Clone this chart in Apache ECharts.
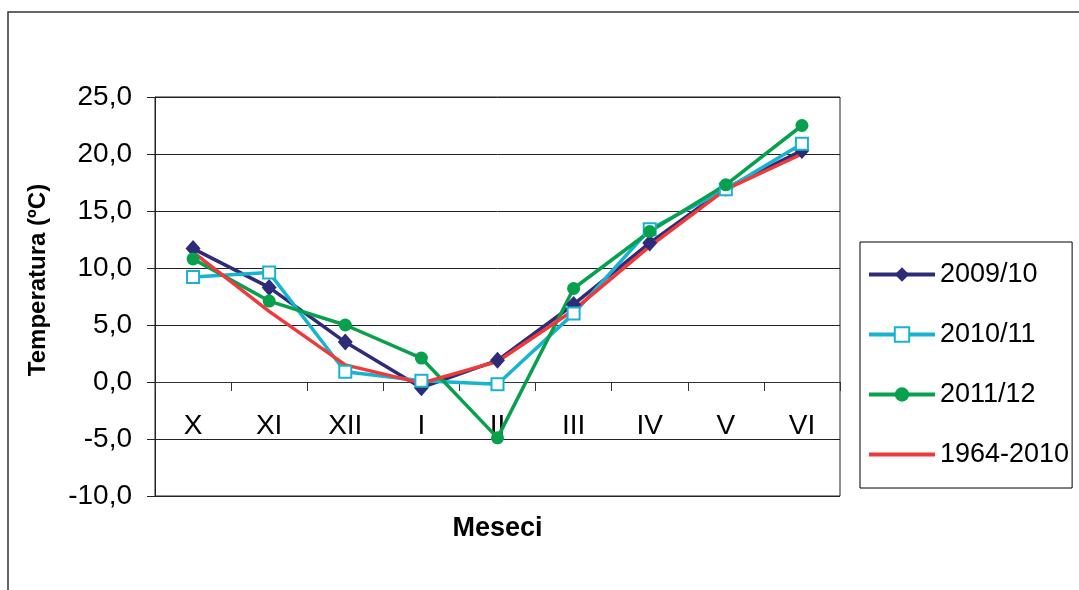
<!DOCTYPE html>
<html>
<head>
<meta charset="utf-8">
<script src="https://cdn.jsdelivr.net/npm/echarts@6/dist/echarts.min.js"></script>
<style>
    html, body {margin: 0; padding: 0; background: #fff;}
    #chart {width: 1079px; height: 590px;}
</style>
</head>
<body>
<div id="chart"></div>
<script>
    // meseci (X..VI)
    const months = ['X', 'XI', 'XII', 'I', 'II', 'III', 'IV', 'V', 'VI'];

    const s2009 = [11.7, 8.3, 3.5, -0.5, 1.9, 6.8, 12.2, 17.0, 20.3];
    const s2010 = [9.2, 9.6, 0.9, 0.1, -0.2, 6.0, 13.4, 16.9, 20.9];
    const s2011 = [10.8, 7.1, 5.0, 2.1, -4.9, 8.2, 13.2, 17.3, 22.5];
    const sAvg = [11.4, 6.2, 1.5, -0.1, 1.8, 6.3, 11.9, 16.9, 20.0];

    const font = 'Liberation Sans, Arial, sans-serif';

    const chart = echarts.init(document.getElementById('chart'));

    const option = {
        backgroundColor: '#fff',
        animation: false,
        graphic: [
            {
                type: 'rect',
                shape: {x: 8, y: 12, width: 1200, height: 700},
                style: {fill: 'none', stroke: '#333', lineWidth: 1.5},
                silent: true
            },
            {
                type: 'text',
                x: 38,
                y: 280,
                rotation: Math.PI / 2,
                style: {
                    text: 'Temperatura (ºC)',
                    font: 'bold 24px ' + font,
                    fill: '#000',
                    align: 'center',
                    verticalAlign: 'middle'
                }
            }
        ],
        grid: {
            left: 155,
            right: 239,
            top: 97,
            bottom: 94,
            show: true,
            borderColor: '#222',
            borderWidth: 1,
            outerBoundsMode: 'none'
        },
        legend: {
            orient: 'vertical',
            left: 860,
            top: 242,
            padding: [19, 3, 20, 7],
            itemWidth: 66,
            itemHeight: 18,
            itemGap: 33,
            borderColor: '#000',
            borderWidth: 1,
            lineStyle: {width: 4},
            textStyle: {fontSize: 27, fontFamily: font, color: '#000'},
            data: [
                '2009/10',
                '2010/11',
                '2011/12',
                {name: '1964-2010', icon: 'path://M0,0H66V4H0Z'}
            ]
        },
        xAxis: {
            type: 'category',
            data: months,
            name: 'Meseci',
            nameLocation: 'middle',
            nameGap: 19,
            nameTextStyle: {fontSize: 27, fontWeight: 'bold', fontFamily: font, color: '#000'},
            axisLine: {onZero: true, lineStyle: {color: '#333', width: 1}},
            axisTick: {show: true, length: 9, lineStyle: {color: '#333'}},
            axisLabel: {fontSize: 28, fontFamily: font, color: '#000', margin: -84}
        },
        yAxis: {
            type: 'value',
            min: -10,
            max: 25,
            interval: 5,
            axisLine: {show: true, lineStyle: {color: '#222'}},
            axisTick: {show: true, length: 8, lineStyle: {color: '#222'}},
            axisLabel: {
                fontSize: 28,
                fontFamily: font,
                color: '#000',
                margin: 23,
                formatter: v => v.toFixed(1).replace('.', ',')
            },
            splitLine: {lineStyle: {color: '#222', width: 1}}
        },
        series: [
            {
                name: '2009/10',
                type: 'line',
                data: s2009,
                symbol: 'diamond',
                symbolSize: [15, 17],
                color: '#2E2B78',
                lineStyle: {width: 3.5}
            },
            {
                name: '2010/11',
                type: 'line',
                data: s2010,
                symbol: 'emptyRect',
                symbolSize: 12,
                color: '#17B4D2',
                itemStyle: {borderWidth: 2},
                lineStyle: {width: 3.5}
            },
            {
                name: '2011/12',
                type: 'line',
                data: s2011,
                symbol: 'circle',
                symbolSize: 13,
                color: '#07A04C',
                lineStyle: {width: 3.5}
            },
            {
                name: '1964-2010',
                type: 'line',
                data: sAvg,
                symbol: 'none',
                color: '#EE3A3A',
                lineStyle: {width: 3.5}
            }
        ]
    };

    option && chart.setOption(option);
</script>
</body>
</html>
